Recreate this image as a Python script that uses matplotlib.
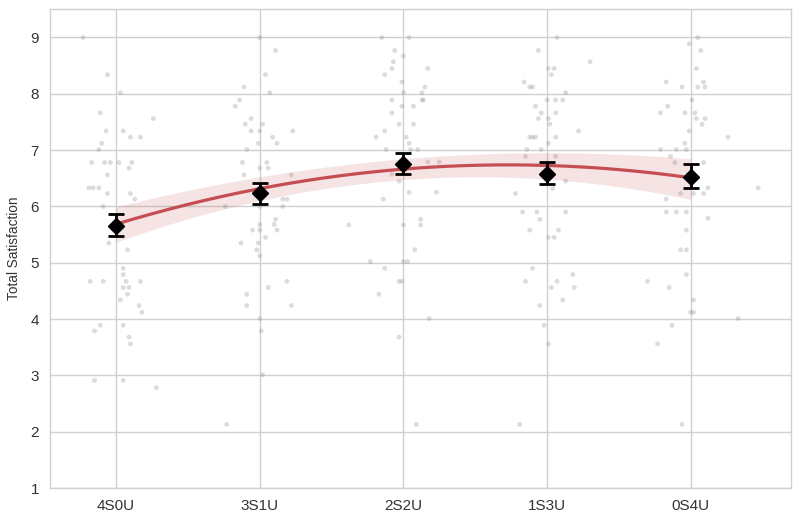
import numpy as np
import matplotlib
matplotlib.use("Agg")
from matplotlib import pyplot as plt

plt.rcParams['font.family'] = ['Liberation Sans', 'DejaVu Sans']

# condition labels along the x axis
groups = ['4S0U', '3S1U', '2S2U', '1S3U', '0S4U']

# raw responses per group: (jitter offset, satisfaction)
pts_4s0u = [(-0.23, 9.0), (-0.06, 8.34), (0.03, 8.02), (-0.11, 7.66), (0.26, 7.56), (-0.07, 7.34),
            (0.05, 7.34), (0.10, 7.23), (0.17, 7.23), (-0.10, 7.12), (-0.12, 7.01), (-0.17, 6.78),
            (-0.08, 6.78), (-0.04, 6.78), (0.02, 6.78), (0.11, 6.78), (0.09, 6.68), (-0.06, 6.56),
            (-0.19, 6.33), (-0.16, 6.33), (-0.12, 6.33), (-0.06, 6.23), (0.10, 6.23), (0.13, 6.13),
            (-0.09, 6.0), (-0.05, 5.35), (0.08, 5.23), (0.05, 4.90), (0.05, 4.79), (-0.18, 4.67),
            (-0.09, 4.67), (0.07, 4.67), (0.17, 4.67), (0.05, 4.56), (0.09, 4.56), (0.08, 4.44),
            (0.03, 4.34), (0.16, 4.24), (0.18, 4.12), (-0.11, 3.89), (-0.15, 3.79), (0.05, 3.89),
            (0.09, 3.68), (0.10, 3.56), (-0.15, 2.91), (0.05, 2.91), (0.28, 2.78)]
pts_3s1u = [(0.0, 9.0), (0.11, 8.77), (0.04, 8.34), (-0.11, 8.12), (0.07, 8.02), (-0.14, 7.89),
            (-0.17, 7.78), (-0.06, 7.56), (-0.10, 7.46), (0.02, 7.46), (-0.06, 7.34), (0.0, 7.34),
            (0.23, 7.34), (0.09, 7.23), (0.12, 7.12), (-0.01, 7.12), (-0.09, 7.01), (-0.12, 6.78),
            (0.05, 6.78), (0.0, 6.68), (0.06, 6.68), (-0.11, 6.56), (0.22, 6.56), (0.16, 6.13),
            (0.19, 6.13), (-0.24, 6.0), (0.16, 6.0), (0.0, 6.0), (0.11, 5.77), (0.10, 5.68),
            (0.0, 5.68), (-0.05, 5.58), (0.0, 5.58), (0.12, 5.58), (0.04, 5.45), (-0.13, 5.35),
            (-0.01, 5.35), (-0.02, 5.23), (0.0, 5.12), (0.19, 4.67), (0.06, 4.56), (-0.09, 4.44),
            (-0.09, 4.24), (0.22, 4.24), (0.0, 4.01), (0.01, 3.79), (0.02, 3.01), (-0.23, 2.13)]
pts_2s2u = [(-0.15, 9.0), (0.04, 9.0), (-0.06, 8.77), (0.0, 8.67), (-0.07, 8.57), (-0.08, 8.45),
            (0.17, 8.45), (-0.13, 8.34), (-0.01, 8.21), (0.15, 8.12), (0.0, 8.02), (0.13, 8.02),
            (-0.08, 7.89), (0.13, 7.89), (0.14, 7.89), (-0.01, 7.78), (0.07, 7.78), (-0.08, 7.66),
            (-0.03, 7.46), (0.07, 7.46), (-0.13, 7.34), (-0.19, 7.23), (0.02, 7.23), (0.04, 7.12),
            (-0.12, 7.01), (0.05, 7.01), (0.10, 7.01), (0.17, 6.79), (0.25, 6.79), (-0.08, 6.57),
            (-0.03, 6.45), (0.04, 6.25), (0.23, 6.25), (-0.14, 6.13), (-0.38, 5.67), (0.0, 5.67),
            (0.12, 5.77), (0.12, 5.67), (0.08, 5.23), (-0.23, 5.02), (0.0, 5.02), (0.03, 5.02),
            (-0.13, 4.90), (-0.03, 4.67), (-0.01, 4.67), (-0.17, 4.44), (0.18, 4.01), (-0.03, 3.68),
            (0.09, 2.13)]
pts_1s3u = [(0.07, 9.0), (-0.06, 8.77), (0.30, 8.57), (0.01, 8.45), (0.05, 8.45), (0.03, 8.34),
            (-0.16, 8.21), (-0.12, 8.12), (-0.10, 8.12), (0.13, 8.02), (0.0, 7.89), (0.06, 7.89),
            (0.11, 7.89), (-0.08, 7.78), (-0.04, 7.66), (0.06, 7.66), (-0.06, 7.56), (0.01, 7.56),
            (0.02, 7.46), (0.22, 7.34), (-0.12, 7.23), (-0.10, 7.23), (-0.08, 7.23), (0.06, 7.23),
            (0.01, 7.12), (-0.14, 7.01), (-0.04, 7.01), (-0.15, 6.89), (0.06, 6.89), (0.13, 6.45),
            (0.04, 6.32), (-0.22, 6.23), (-0.17, 5.90), (-0.07, 5.90), (0.13, 5.90), (-0.05, 5.77),
            (-0.12, 5.58), (0.08, 5.58), (0.01, 5.45), (0.05, 5.45), (-0.10, 4.90), (0.18, 4.79),
            (-0.15, 4.67), (0.07, 4.67), (0.03, 4.56), (0.19, 4.56), (0.11, 4.34), (-0.05, 4.24),
            (-0.02, 3.89), (0.01, 3.56), (-0.19, 2.13)]
pts_0s4u = [(0.05, 9.0), (-0.01, 8.89), (0.07, 8.77), (0.04, 8.45), (-0.17, 8.21), (0.09, 8.21),
            (-0.06, 8.12), (0.05, 8.12), (0.10, 8.12), (0.01, 7.89), (-0.16, 7.78), (-0.21, 7.66),
            (-0.04, 7.66), (0.03, 7.66), (0.04, 7.56), (0.10, 7.56), (0.08, 7.46), (-0.01, 7.34),
            (0.26, 7.23), (-0.04, 7.12), (-0.21, 7.01), (-0.10, 7.01), (-0.03, 7.01), (-0.14, 6.89),
            (-0.11, 6.78), (0.09, 6.78), (0.12, 6.33), (0.47, 6.33), (-0.07, 6.23), (0.02, 6.23),
            (0.09, 6.23), (-0.17, 6.13), (-0.17, 5.90), (-0.10, 5.90), (-0.03, 5.90), (0.12, 5.79),
            (-0.03, 5.58), (-0.07, 5.23), (-0.03, 5.23), (-0.03, 4.79), (-0.30, 4.67), (-0.15, 4.56),
            (0.02, 4.34), (0.0, 4.12), (0.02, 4.12), (0.33, 4.01), (-0.13, 3.89), (-0.23, 3.56),
            (-0.06, 2.13)]
raw_points = [pts_4s0u, pts_3s1u, pts_2s2u, pts_1s3u, pts_0s4u]

# group means with error bar limits
means = [5.65, 6.23, 6.76, 6.58, 6.53]
err_lo = [5.47, 6.05, 6.57, 6.39, 6.32]
err_hi = [5.87, 6.42, 6.95, 6.79, 6.75]

# quadratic trend and its confidence band, read at each group
fit_vals = [5.68, 6.33, 6.65, 6.73, 6.51]
band_lo = [5.35, 6.15, 6.42, 6.51, 6.12]
band_hi = [5.98, 6.54, 6.86, 6.92, 6.86]

red = '#c44e52'
text_col = '#333333'

fig = plt.figure(figsize=(8, 5.15), dpi=100)
ax = fig.add_axes([0.0625, 0.0524, 0.9265, 0.9295])

xpos = np.arange(len(groups))

# jittered raw responses
for i, pts in enumerate(raw_points):
    arr = np.array(pts)
    ax.scatter(xpos[i] + arr[:, 0], arr[:, 1], s=12, color='#8c8c8c', alpha=0.3,
               edgecolors='none', zorder=2)

# quadratic fit + band
xs = np.linspace(0, len(groups) - 1, 200)
curve = np.polyval(np.polyfit(xpos, fit_vals, 2), xs)
lo = np.polyval(np.polyfit(xpos, band_lo, 2), xs)
hi = np.polyval(np.polyfit(xpos, band_hi, 2), xs)
ax.fill_between(xs, lo, hi, color=red, alpha=0.15, linewidth=0, zorder=3)
ax.plot(xs, curve, color=red, lw=2.3, zorder=4)

# means with error bars
yerr = [np.array(means) - np.array(err_lo), np.array(err_hi) - np.array(means)]
ax.errorbar(xpos, means, yerr=yerr, fmt='D', color='black', markersize=8.5,
            elinewidth=2, capsize=6, capthick=2, zorder=5)

ax.set_xlim(-0.46, 4.70)
ax.set_ylim(1, 9.5)
ax.set_xticks(xpos)
ax.set_xticklabels(groups)
ax.set_yticks(range(1, 10))
ax.grid(True, color='#d0d0d0', lw=1)
ax.set_axisbelow(True)
for s in ax.spines.values():
    s.set_color('#d0d0d0')
    s.set_linewidth(1)
ax.tick_params(length=0, labelsize=11, colors=text_col, pad=8)
ax.set_ylabel('Total Satisfaction', fontsize=9.8, color=text_col, labelpad=7)

fig.savefig('out.png', dpi=100)
